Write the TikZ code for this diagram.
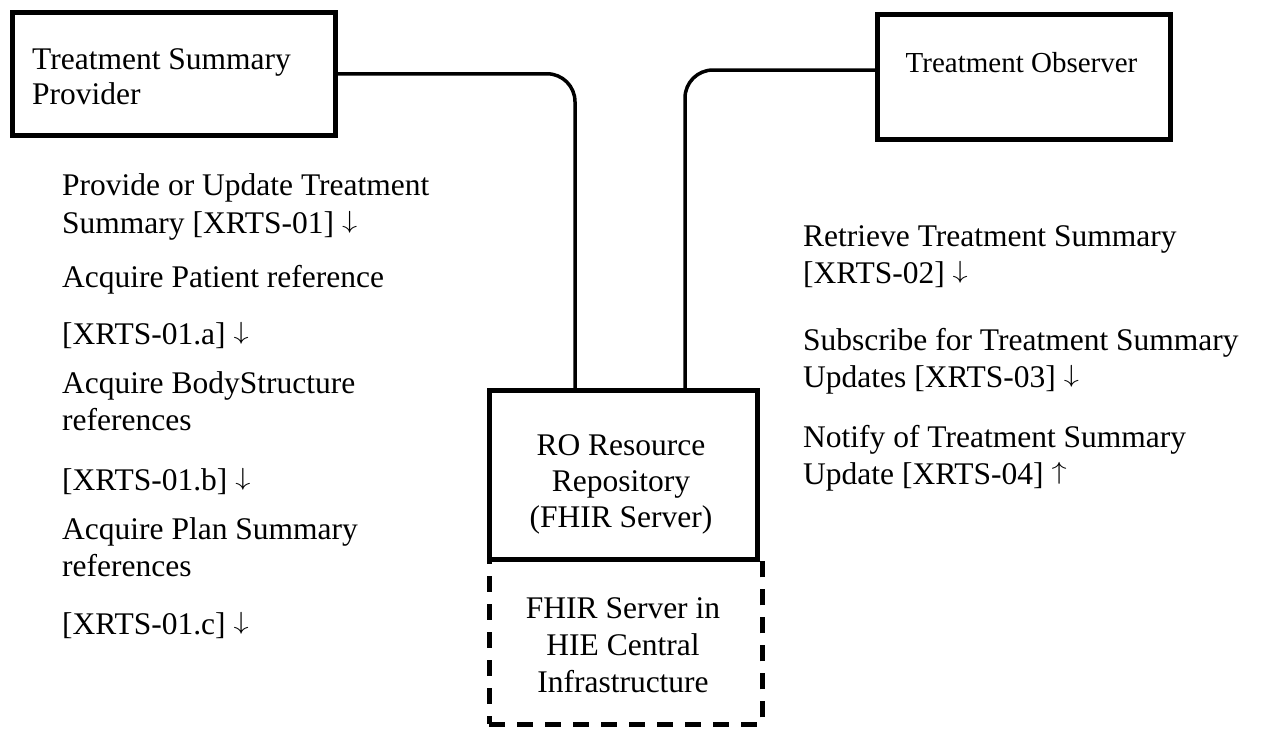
\documentclass[tikz,border=0pt]{standalone}
\usepackage{fontspec}
\usepackage{graphicx}
\setmainfont{Liberation Serif}
\newcommand\dnarr{\raisebox{0.153em}{\resizebox*{0.48em}{0.7em}{$\downarrow$}}}
\newcommand\uparr{\raisebox{0.153em}{\resizebox*{0.48em}{0.7em}{$\uparrow$}}}
\begin{document}
\begin{tikzpicture}[x=1pt,y=-1pt,
  box/.style={draw,line width=4.5pt,inner sep=0pt,anchor=north west},
  dbox/.style={draw,line width=4.5pt,inner sep=0pt,anchor=north west,dash pattern=on 16pt off 12pt},
  conn/.style={line width=3.5pt,rounded corners=28pt},
  txt/.style={inner sep=0pt,font=\fontsize{31.5}{36}\selectfont},
  lt/.style={txt,anchor=base west},
  ct/.style={txt,anchor=base}]
\useasboundingbox (0,0) rectangle (1262,732);
% boxes
\node[box,minimum width=323pt,minimum height=123pt] (prov) at (10,10) {};
\node[box,minimum width=293pt,minimum height=125pt] (obs) at (875,12) {};
\node[box,minimum width=268pt,minimum height=169pt] (repo) at (487,388) {};
\node[dbox,minimum width=273pt,minimum height=165pt] (hie) at (487,557) {};
% box texts
\node[lt] (p1) at (32,69) {Treatment Summary};
\node[lt] (p2) at (32,104) {Provider};
\node[ct,font=\fontsize{29}{34}\selectfont] (o1) at (1021.5,72) {Treatment Observer};
\node[ct] (c1) at (621,455) {RO Resource};
\node[ct] (c2) at (621,491) {Repository};
\node[ct] (c3) at (621,527) {(FHIR Server)};
\node[ct] (h1) at (623,618) {FHIR Server in};
\node[ct] (h2) at (623,655) {HIE Central};
\node[ct] (h3) at (623,692) {Infrastructure};
% connectors
\coordinate (lj) at ([xshift=88pt]repo.north west);
\coordinate (rj) at ([xshift=198pt]repo.north west);
\draw[conn] (prov.east) -| (lj);
\draw[conn] (obs.west |- 0,70) -| (rj);
% left texts
\node[lt] (l1) at (62,195) {Provide or Update Treatment};
\node[lt] (l2) at (62,233) {Summary [XRTS-01] \dnarr};
\node[lt] (l3) at (62,287) {Acquire Patient reference};
\node[lt] (l4) at (62,344) {[XRTS-01.a] \dnarr};
\node[lt] (l5) at (62,393) {Acquire BodyStructure};
\node[lt] (l6) at (62,430) {references};
\node[lt] (l7) at (62,490) {[XRTS-01.b] \dnarr};
\node[lt] (l8) at (62,539) {Acquire Plan Summary};
\node[lt] (l9) at (62,576) {references};
\node[lt] (l10) at (62,634) {[XRTS-01.c] \dnarr};
% right texts
\node[lt] (r1) at (803,246) {Retrieve Treatment Summary};
\node[lt] (r2) at (803,283) {[XRTS-02] \dnarr};
\node[lt] (r3) at (803,350) {Subscribe for Treatment Summary};
\node[lt] (r4) at (803,387) {Updates [XRTS-03] \dnarr};
\node[lt] (r5) at (803,447) {Notify of Treatment Summary};
\node[lt] (r6) at (803,484) {Update [XRTS-04] \uparr};
\end{tikzpicture}
\end{document}
